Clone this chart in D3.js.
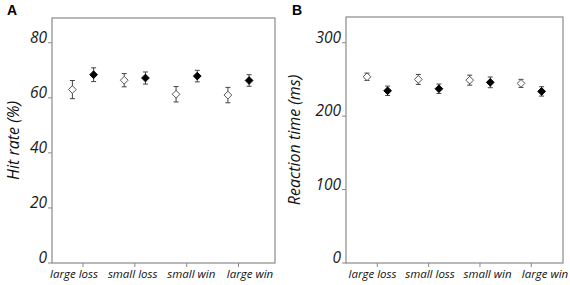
<!DOCTYPE html>
<html>
<head>
<meta charset="utf-8">
<script src="https://cdn.jsdelivr.net/npm/d3@7"></script>
<style>
  body { margin: 0; background: #fff; }
  text { font-family: "Open Sans", sans-serif; }
</style>
</head>
<body>
<script>
var width = 570,
    height = 285

var categories = ["large loss", "small loss", "small win", "large win"];

// hit rate (%), open = first condition, filled = second
var hitOpen = [63.0, 66.4, 61.3, 61.0];
var hitOpenErr = [3.3, 2.4, 2.8, 2.8];
var hitFilled = [68.4, 67.2, 67.9, 66.3];
var hitFilledErr = [2.5, 2.2, 2.1, 2.1];
var hitTicks = [0, 20, 40, 60, 80];

// reaction time (ms)
var rtOpen = [253.6, 250, 249, 244.6];
var rtOpenErr = [5, 6.8, 6.8, 5.5];
var rtFilled = [234.5, 237.3, 246, 233.7];
var rtFilledErr = [6.4, 6.4, 7.3, 6.4];
var rtTicks = [0, 100, 200, 300];

var svg = d3.select("body").append("svg")
    .attr("width", width)
    .attr("height", height);

function panel(opt) {
  var g = svg.append("g");

  var y = d3.scaleLinear()
      .domain([0, opt.max])
      .range([opt.bottom, opt.top]);

  var x = d3.scalePoint()
      .domain(categories)
      .range(opt.tickRange);

  var xl = d3.scalePoint()
      .domain(categories)
      .range(opt.labelRange);

  // frame
  g.append("rect")
    .attr("x", opt.left)
    .attr("y", opt.top)
    .attr("width", opt.right - opt.left)
    .attr("height", opt.bottom - opt.top)
    .attr("fill", "none")
    .attr("stroke", "#8a8a8a")
    .attr("stroke-width", 1.2);

  // y ticks
  g.selectAll(".ytick")
    .data(opt.ticks)
    .enter().append("line")
      .attr("x1", opt.left - 4)
      .attr("x2", opt.left)
      .attr("y1", d => y(d))
      .attr("y2", d => y(d))
      .attr("stroke", "#8a8a8a");

  g.selectAll(".ylab")
    .data(opt.ticks)
    .enter().append("text")
      .attr("x", opt.left - 5)
      .attr("y", d => y(d))
      .attr("text-anchor", "end")
      .style("font-size", "15.5px")
      .style("font-style", "italic")
      .style("fill", "#1a1a1a")
      .text(d => d);

  // x ticks
  g.selectAll(".xtick")
    .data(categories)
    .enter().append("line")
      .attr("x1", d => x(d))
      .attr("x2", d => x(d))
      .attr("y1", opt.bottom)
      .attr("y2", opt.bottom + 4)
      .attr("stroke", "#8a8a8a");

  g.selectAll(".xlab")
    .data(categories)
    .enter().append("text")
      .attr("x", d => xl(d))
      .attr("y", opt.bottom + 15)
      .attr("text-anchor", "middle")
      .style("font-size", "11.5px")
      .style("font-style", "italic")
      .style("fill", "#111")
      .text(d => d);

  // axis title
  g.append("text")
    .attr("transform", "translate(" + opt.titleX + "," + ((opt.top + opt.bottom) / 2) + ") rotate(-90)")
    .attr("text-anchor", "middle")
    .style("font-size", "16px")
    .style("font-style", "italic")
    .style("fill", "#111")
    .text(opt.title);

  // panel letter
  g.append("text")
    .attr("x", opt.letterX)
    .attr("y", 15)
    .style("font-size", "14px")
    .style("font-weight", "bold")
    .style("font-family", "Liberation Sans, Arial, sans-serif")
    .text(opt.letter);

  var series = [
    {vals: opt.open, err: opt.openErr, dx: -opt.off, fill: "#fff"},
    {vals: opt.filled, err: opt.filledErr, dx: opt.off, fill: "#000"}
  ];

  var diamond = d3.symbol().type(d3.symbolDiamond2).size(38);

  series.forEach(function(s) {
    var pts = g.selectAll(null)
      .data(categories.map((c, i) => ({c: c, v: s.vals[i], e: s.err[i]})))
      .enter().append("g")
        .attr("transform", d => "translate(" + (x(d.c) + s.dx) + ",0)");

    pts.append("line")
      .attr("y1", d => y(d.v + d.e))
      .attr("y2", d => y(d.v - d.e))
      .attr("stroke", "#444")
      .attr("stroke-width", 1);
    pts.append("line")
      .attr("x1", -2.5).attr("x2", 2.5)
      .attr("y1", d => y(d.v + d.e))
      .attr("y2", d => y(d.v + d.e))
      .attr("stroke", "#444");
    pts.append("line")
      .attr("x1", -2.5).attr("x2", 2.5)
      .attr("y1", d => y(d.v - d.e))
      .attr("y2", d => y(d.v - d.e))
      .attr("stroke", "#444");
    pts.append("path")
      .attr("d", diamond)
      .attr("transform", d => "translate(0," + y(d.v) + ")")
      .attr("fill", s.fill)
      .attr("stroke", s.fill == "#fff" ? "#555" : "#000")
      .attr("stroke-width", 1);
  });
}

panel({
  left: 52, right: 275, top: 18, bottom: 263,
  max: 89, ticks: hitTicks,
  tickRange: [83, 238.5], labelRange: [74, 250], off: 10.6,
  open: hitOpen, openErr: hitOpenErr, filled: hitFilled, filledErr: hitFilledErr,
  title: "Hit rate (%)", titleX: 19, letter: "A", letterX: 7
});

panel({
  left: 346, right: 563, top: 17, bottom: 263,
  max: 335, ticks: rtTicks,
  tickRange: [377.3, 531.3], labelRange: [372.5, 545], off: 10.3,
  open: rtOpen, openErr: rtOpenErr, filled: rtFilled, filledErr: rtFilledErr,
  title: "Reaction time (ms)", titleX: 300, letter: "B", letterX: 292
});
</script>
</body>
</html>
